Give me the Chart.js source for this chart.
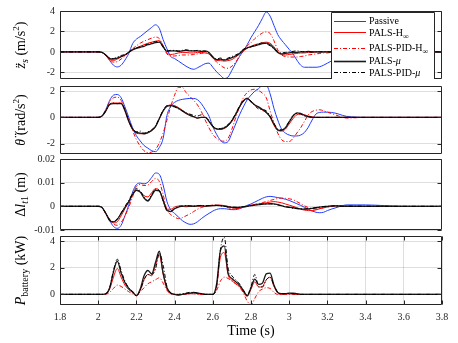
<!DOCTYPE html>
<html><head><meta charset="utf-8">
<script src="https://cdn.jsdelivr.net/npm/chart.js@4.4.0/dist/chart.umd.min.js"></script>
<style>
html,body{margin:0;padding:0;background:#fff;}
#wrap{position:relative;width:458px;height:343px;overflow:hidden;}
#wrap canvas{position:absolute;left:0;top:0;}
</style></head><body>
<div id="wrap">
<canvas id="c1" width="458" height="343"></canvas>
<canvas id="c2" width="458" height="343"></canvas>
<canvas id="c3" width="458" height="343"></canvas>
<canvas id="c4" width="458" height="343"></canvas>
</div>
<script>
// ---------------- DATA ----------------
const time = [1.8, 2.00, 2.02, 2.04, 2.06, 2.08, 2.10, 2.12, 2.14, 2.16, 2.18,
  2.20, 2.22, 2.24, 2.26, 2.28, 2.30, 2.32, 2.34, 2.36, 2.38,
  2.40, 2.42, 2.44, 2.46, 2.48, 2.50, 2.52, 2.54, 2.56, 2.58,
  2.60, 2.62, 2.64, 2.66, 2.68, 2.70, 2.72, 2.74, 2.76, 2.78,
  2.80, 2.82, 2.84, 2.86, 2.88, 2.90, 2.92, 2.94, 2.96, 2.98,
  3.00, 3.02, 3.04, 3.06, 3.08, 3.10, 3.12, 3.14, 3.16, 3.18,
  3.20, 3.22, 3.24, 3.26, 3.28, 3.30, 3.4, 3.5, 3.6, 3.8];

const seriesNames = ['Passive', 'PALS-H∞', 'PALS-PID-H∞', 'PALS-μ', 'PALS-PID-μ'];

// Panel 1: body vertical acceleration (m/s^2)
const accPassive = [0, 0, -0.05, -0.35, -0.85, -1.3, -1.47, -1.3, -0.8, -0.15, 0.8,
  1.25, 1.5, 1.8, 2.1, 2.4, 2.65, 2.3, 1.2, 0.3, -0.45,
  -0.65, -0.9, -1.15, -1.4, -1.6, -1.7, -1.55, -1.35, -1.15, -1.1,
  -1.5, -1.95, -2.3, -2.6, -2.45, -1.8, -1.1, -0.45, 0.1, 0.7,
  1.4, 2.0, 2.6, 3.3, 3.9, 3.5, 2.6, 1.7, 1.15, 0.7,
  0.25, -0.2, -0.8, -1.3, -1.5, -1.5, -1.5, -1.5, -1.45, -1.3,
  -1.1, -0.9, -0.7, -0.5, -0.35, -0.25, -0.05, 0, 0, 0];
const accH = [0, 0, -0.05, -0.35, -0.75, -0.85, -0.7, -0.5, -0.3, -0.05, 0.2,
  0.4, 0.55, 0.7, 0.85, 0.95, 1.05, 1.1, 0.6, -0.1, -0.25,
  -0.2, -0.1, -0.05, -0.05, -0.1, -0.1, -0.05, -0.05, -0.1, -0.2,
  -0.6, -0.85, -0.85, -0.9, -0.85, -0.75, -0.5, -0.2, 0.1, 0.35,
  0.55, 0.7, 0.8, 0.9, 0.95, 0.85, 0.5, 0.0, -0.25, -0.3,
  -0.25, -0.2, -0.15, -0.1, -0.1, -0.05, -0.05, 0, 0, 0,
  0, 0, 0, 0, 0, 0, 0, 0, 0, 0];
const accPidH = [0, 0, -0.05, -0.35, -0.75, -1.0, -0.95, -0.7, -0.4, -0.05, 0.3,
  0.6, 0.85, 1.05, 1.2, 1.35, 1.45, 1.3, 0.6, -0.2, -0.4,
  -0.4, -0.35, -0.3, -0.3, -0.3, -0.25, -0.2, -0.15, -0.1, -0.2,
  -0.6, -1.0, -1.3, -1.55, -1.6, -1.4, -1.0, -0.4, 0.1, 0.6,
  0.9, 1.3, 1.6, 1.85, 1.95, 1.8, 1.1, 0.2, -0.3, -0.45,
  -0.5, -0.5, -0.5, -0.45, -0.4, -0.3, -0.25, -0.2, -0.15, -0.1,
  -0.1, -0.05, -0.05, 0, 0, 0, 0, 0, 0, 0];
const accMu = [0, 0, -0.05, -0.3, -0.65, -0.7, -0.6, -0.45, -0.3, -0.05, 0.2,
  0.35, 0.45, 0.55, 0.7, 0.8, 0.9, 0.95, 0.5, 0.05, 0.1,
  0.1, 0.05, 0.1, 0.15, 0.1, 0.1, 0.1, 0.05, 0.1, -0.05,
  -0.5, -0.75, -0.7, -0.8, -0.7, -0.55, -0.4, -0.15, 0.2, 0.4,
  0.5, 0.6, 0.7, 0.8, 0.85, 0.7, 0.35, -0.05, -0.2, -0.15,
  -0.1, -0.05, -0.05, 0, 0, 0.05, 0, 0, 0, 0,
  0, 0, 0, 0, 0, 0, 0, 0, 0, 0];
const accPidMu = [0, 0, -0.05, -0.3, -0.6, -0.65, -0.5, -0.35, -0.25, 0, 0.25,
  0.4, 0.5, 0.65, 0.75, 0.9, 1.0, 1.0, 0.45, 0.1, 0.15,
  0.15, 0.1, 0.15, 0.2, 0.15, 0.1, 0.15, 0.1, 0.05, -0.1,
  -0.45, -0.7, -0.6, -0.75, -0.6, -0.45, -0.3, -0.1, 0.25, 0.45,
  0.5, 0.65, 0.75, 0.9, 0.8, 0.6, 0.3, 0.05, -0.1, -0.05,
  0, 0.05, 0.1, 0.05, 0, 0, 0, 0, 0, 0,
  0, 0, 0, 0, 0, 0, 0, 0, 0, 0];

// Panel 2: pitch acceleration (rad/s^2)
const pitchPassive = [0, 0, 0.1, 0.6, 1.3, 1.7, 1.75, 1.5, 0.8, 0.0, -0.8,
  -1.4, -1.8, -2.15, -2.35, -2.55, -2.62, -2.3, -1.6, 0.15, 0.85,
  1.15, 1.3, 1.38, 1.42, 1.45, 1.45, 1.35, 1.05, 0.6, 0.1,
  -0.7, -1.3, -1.75, -1.95, -1.85, -1.2, -0.5, 0.2, 0.8, 1.35,
  1.7, 2.0, 2.2, 2.45, 2.45, 1.8, 0.7, -0.2, -0.9, -1.2,
  -1.35, -1.42, -1.42, -1.35, -1.15, -0.75, -0.2, 0.25, 0.38, 0.4,
  0.4, 0.38, 0.33, 0.25, 0.15, 0.08, 0, 0, 0, 0];
const pitchH = [0, 0, 0.1, 0.5, 1.0, 1.1, 1.1, 1.1, 0.6, -0.3, -0.9,
  -1.2, -1.25, -1.25, -1.2, -1.0, -0.7, -0.1, 0.5, 0.85, 0.95,
  0.9, 0.75, 0.55, 0.35, 0.2, 0.05, -0.05, 0.0, 0.0, -0.3,
  -0.7, -0.9, -0.92, -0.85, -0.65, -0.3, 0.2, 0.8, 1.3, 1.47,
  1.2, 0.95, 0.75, 0.55, 0.35, 0.0, -0.6, -1.0, -1.05, -0.9,
  -0.5, -0.1, 0.2, 0.25, 0.2, 0.1, 0.05, 0, 0, 0,
  0, 0, 0, 0, 0, 0, 0, 0, 0, 0];
const pitchPidH = [0, 0, 0.1, 0.6, 1.2, 1.5, 1.55, 1.3, 0.6, -0.2, -1.0,
  -1.7, -2.2, -2.55, -2.7, -2.65, -2.45, -1.95, -1.2, -0.2, 0.85,
  1.7, 2.3, 2.3, 1.9, 1.6, 1.3, 0.95, 0.45, -0.2, -0.8,
  -1.3, -1.6, -1.8, -1.82, -1.6, -0.9, 0.0, 0.8, 1.5, 1.9,
  2.1, 2.15, 2.05, 1.85, 1.5, 0.5, -0.4, -1.2, -1.7, -1.85,
  -1.85, -1.6, -1.2, -0.8, -0.3, 0.2, 0.45, 0.55, 0.58, 0.5,
  0.4, 0.3, 0.2, 0.1, 0.0, -0.05, 0, 0, 0, 0];
const pitchMu = [0, 0, 0.1, 0.5, 1.0, 1.05, 1.05, 1.05, 0.5, -0.3, -0.9,
  -1.15, -1.2, -1.25, -1.15, -1.0, -0.7, -0.1, 0.5, 0.85, 0.9,
  0.85, 0.7, 0.5, 0.3, 0.15, 0.05, -0.05, 0.0, 0.0, -0.3,
  -0.7, -0.88, -0.9, -0.8, -0.6, -0.25, 0.25, 0.8, 1.25, 1.45,
  1.2, 0.95, 0.8, 0.6, 0.4, 0.05, -0.5, -0.95, -1.0, -0.8,
  -0.35, 0.1, 0.35, 0.3, 0.15, 0.05, 0, 0, 0, 0,
  0, 0, 0, 0, 0, 0, 0, 0, 0, 0];
const pitchPidMu = [0, 0, 0.1, 0.5, 1.0, 1.1, 1.05, 1.1, 0.55, -0.25, -0.85,
  -1.1, -1.05, -1.2, -1.1, -0.95, -0.65, -0.05, 0.55, 0.9, 0.85,
  0.8, 0.65, 0.5, 0.35, 0.25, 0.15, 0.1, 0.2, 0.05, -0.25,
  -0.65, -0.85, -0.85, -0.75, -0.55, -0.2, 0.3, 0.85, 1.25, 1.4,
  1.25, 0.9, 0.65, 0.6, 0.5, 0.1, -0.45, -0.9, -0.95, -0.75,
  -0.3, 0.15, 0.3, 0.25, 0.1, 0.05, 0, 0, 0, 0,
  0, 0, 0, 0, 0, 0, 0, 0, 0, 0];

// Panel 3: actuator stroke Δl_t1 (m)
const defPassive = [0, 0, -0.0005, -0.003, -0.006, -0.0085, -0.0093, -0.008, -0.004, 0.0005, 0.006,
  0.0092, 0.0098, 0.0095, 0.0102, 0.0122, 0.0141, 0.0135, 0.009, 0.002, -0.0015,
  -0.003, -0.0045, -0.006, -0.007, -0.0076, -0.0074, -0.0065, -0.0052, -0.004, -0.003,
  -0.002, -0.0013, -0.001, -0.001, -0.0012, -0.0014, -0.0014, -0.001, -0.0003, 0.0004,
  0.001, 0.0018, 0.0026, 0.0034, 0.004, 0.0042, 0.004, 0.0037, 0.0034, 0.003,
  0.0025, 0.0018, 0.0011, 0.0004, -0.0004, -0.0012, -0.002, -0.0025, -0.0027, -0.0025,
  -0.0018, -0.0012, -0.0007, -0.0002, 0.0003, 0.0006, 0.0006, 0.0003, 0, 0];
const defH = [0, 0, -0.0005, -0.003, -0.0055, -0.007, -0.0065, -0.004, -0.001, 0.002, 0.005,
  0.0068, 0.0062, 0.0045, 0.004, 0.0058, 0.0075, 0.0068, 0.003, -0.0012, -0.0012,
  -0.0003, 0.0001, 0, -0.0002, 0, 0.0002, 0.0001, 0, 0, 0.0002,
  0.0004, 0.0005, 0.0005, 0.0003, 0, -0.0005, -0.0008, -0.0008, -0.0004, 0.0,
  0.0005, 0.0008, 0.001, 0.0012, 0.0015, 0.0018, 0.002, 0.0018, 0.0015, 0.001,
  0.0005, 0, -0.0006, -0.0012, -0.0016, -0.0018, -0.0018, -0.0015, -0.001, -0.0006,
  -0.0003, 0, 0.0002, 0.0003, 0.0003, 0.0002, 0.0001, 0, 0, 0];
const defPidH = [0, 0, -0.0005, -0.003, -0.0055, -0.0075, -0.008, -0.0068, -0.004, -0.0005, 0.004,
  0.0085, 0.0092, 0.0088, 0.009, 0.0105, 0.0118, 0.0105, 0.005, -0.0015, -0.0035,
  -0.0045, -0.0052, -0.0048, -0.004, -0.0032, -0.0022, -0.0012, -0.0005, 0, 0.0003,
  0.0005, 0.0005, 0.0003, 0, -0.0005, -0.001, -0.001, -0.0007, -0.0003, 0.0001,
  0.0004, 0.0008, 0.0012, 0.0016, 0.002, 0.0025, 0.0029, 0.0033, 0.0035, 0.0034,
  0.0032, 0.0028, 0.002, 0.0011, 0.0002, -0.0005, -0.001, -0.0012, -0.001, -0.0006,
  -0.0003, 0, 0.0002, 0.0003, 0.0003, 0.0003, 0.0001, 0, 0, 0];
const defMu = [0, 0, -0.0005, -0.003, -0.006, -0.0066, -0.0055, -0.003, -0.0005, 0.002, 0.005,
  0.0068, 0.006, 0.0035, 0.0022, 0.0045, 0.0068, 0.0065, 0.0025, -0.0018, -0.0022,
  -0.001, -0.0003, 0, 0.0002, 0.0001, 0, 0.0002, 0.0003, 0.0001, 0.0002,
  0.0003, 0.0004, 0.0003, 0.0001, -0.0002, -0.0004, -0.0005, -0.0004, -0.0002, 0,
  0.0003, 0.0005, 0.0007, 0.0009, 0.001, 0.0011, 0.001, 0.0007, 0.0003, -0.0002,
  -0.0003, -0.0006, -0.0009, -0.0011, -0.0012, -0.0011, -0.0009, -0.0006, -0.0003, -0.0001,
  0, 0.0002, 0.0002, 0.0001, 0, 0, 0, 0, 0, 0];
const defPidMu = [0, 0, -0.0005, -0.003, -0.0058, -0.0064, -0.0052, -0.0028, 0, 0.0025, 0.0055,
  0.0075, 0.0065, 0.004, 0.0025, 0.005, 0.0072, 0.0066, 0.0022, -0.0015, -0.002,
  -0.0008, 0, 0.0002, 0.0003, 0.0002, 0.0001, 0.0003, 0.0004, 0.0002, 0.0003,
  0.0004, 0.0004, 0.0002, 0, -0.0002, -0.0003, -0.0004, -0.0003, -0.0001, 0.0001,
  0.0003, 0.0005, 0.0008, 0.001, 0.001, 0.0011, 0.0009, 0.0006, 0.0002, -0.0002,
  -0.0005, -0.0008, -0.001, -0.0011, -0.0011, -0.001, -0.0008, -0.0005, -0.0003, -0.0001,
  0, 0.0001, 0.0002, 0.0001, 0, 0, 0, 0, 0, 0];

// Panel 4: battery power (kW)  (no passive curve)
const powH = [0, 0, 0, 0.05, 0.4, 1.3, 1.95, 1.3, 0.7, 0.35, 0.15,
  -0.1, 0.3, 1.1, 1.5, 1.4, 2.2, 3.0, 1.5, 0.4, 0.05,
  0, -0.05, 0, 0.05, 0.05, 0.1, 0.05, 0, 0, 0,
  0, 0.6, 2.8, 3.15, 1.5, 1.05, 0.8, 0.6, 0.2, -0.15,
  0.4, 0.95, 0.55, 0.6, 1.1, 1.3, 0.6, 0.1, 0, 0.05,
  0.05, 0.05, 0, 0, 0, 0, 0, 0, 0, 0,
  0, 0, 0, 0, 0, 0, 0, 0, 0, 0];
const powPidH = [0, 0, 0, 0.02, 0.15, 0.45, 0.7, 0.6, 0.4, 0.2, 0.05,
  -0.1, 0.2, 0.5, 0.8, 0.95, 1.1, 1.25, 0.85, 0.3, 0.05,
  0, 0, 0, 0, 0.05, 0.05, 0, 0, 0, 0,
  0, 0.3, 1.0, 1.3, 1.2, 1.0, 0.8, 0.55, 0.1, -0.5,
  -0.8, -0.3, 0.2, 0.4, 0.5, 0.45, 0.15, 0, 0, 0,
  0, 0, 0, 0, 0, 0, 0, 0, 0, 0,
  0, 0, 0, 0, 0, 0, 0, 0, 0, 0];
const powMu = [0, 0, 0, 0.05, 0.5, 1.7, 2.5, 1.6, 0.9, 0.45, 0.2,
  -0.1, 0.4, 1.4, 1.8, 1.55, 2.4, 3.25, 1.6, 0.5, 0.1,
  0, -0.05, 0, 0.05, 0.1, 0.15, 0.1, 0.05, 0, 0,
  0, 0.8, 3.3, 3.65, 1.6, 1.2, 0.95, 0.7, 0.3, -0.1,
  0.5, 1.15, 0.75, 0.85, 1.55, 1.6, 0.7, 0.15, 0.05, 0.05,
  0.1, 0.1, 0.05, 0, 0, 0, 0, 0, 0, 0,
  0, 0, 0, 0, 0, 0, 0, 0, 0, 0];
const powPidMu = [0, 0, 0, 0.05, 0.5, 1.8, 2.65, 1.8, 1.0, 0.5, 0.2,
  -0.1, 0.3, 1.1, 1.5, 1.5, 1.9, 3.1, 2.2, 0.6, 0.1,
  0, 0, 0.05, 0.1, 0.15, 0.15, 0.1, 0.05, 0, 0,
  0, 0.6, 3.4, 4.3, 2.0, 1.4, 1.1, 0.8, 0.3, -0.05,
  0.6, 1.5, 0.6, 0.55, 1.1, 1.3, 0.7, 0.15, 0.05, 0.05,
  0.05, 0.05, 0, 0, 0, 0, 0, 0, 0, 0,
  0, 0, 0, 0, 0, 0, 0, 0, 0, 0];

// Ticks
const xTicks = [1.8, 2.0, 2.2, 2.4, 2.6, 2.8, 3.0, 3.2, 3.4, 3.6, 3.8];
const xTickLabels = ['1.8', '2', '2.2', '2.4', '2.6', '2.8', '3', '3.2', '3.4', '3.6', '3.8'];
const yTicks1 = [-2, 0, 2, 4];          const yTickLabels1 = ['-2', '0', '2', '4'];
const yTicks2 = [-2, 0, 2];             const yTickLabels2 = ['-2', '0', '2'];
const yTicks3 = [-0.01, 0, 0.01, 0.02]; const yTickLabels3 = ['-0.01', '0', '0.01', '0.02'];
const yTicks4 = [0, 2, 4];              const yTickLabels4 = ['0', '2', '4'];

// ---------------- STYLES ----------------
const SERIF = '"Liberation Serif", "Times New Roman", serif';
const STY = [
  {color: '#1f3dff', width: 1, dash: [], order: 5},
  {color: '#ff0000', width: 1, dash: [], order: 4},
  {color: '#ff0000', width: 1, dash: [4, 2, 1, 2], order: 3},
  {color: '#1a1a1a', width: 1.3, dash: [], order: 2},
  {color: '#000000', width: 1, dash: [4, 2, 1, 2], order: 1}
];
const GRID = 'rgba(0,0,0,0.13)';
const AXC = '#262626';

function fontOf(s, base) {
  return (s.it ? 'italic ' : '') + (s.sz || base) + 'px ' + SERIF;
}
function drawRich(ctx, segs, x, y, base, rot, align) {
  ctx.save();
  ctx.translate(x, y);
  if (rot) ctx.rotate(-Math.PI / 2);
  let w = 0;
  const ws = segs.map(s => { ctx.font = fontOf(s, base); const m = ctx.measureText(s.t).width; w += m; return m; });
  let cx = align === 'left' ? 0 : -w / 2;
  ctx.fillStyle = '#000';
  ctx.textAlign = 'left';
  ctx.textBaseline = 'alphabetic';
  segs.forEach((s, i) => { ctx.font = fontOf(s, base); ctx.fillText(s.t, cx, s.dy || 0); cx += ws[i]; });
  ctx.restore();
}

const framePlugin = {
  id: 'frame',
  afterDatasetsDraw(chart, args, o) {
    const {ctx, chartArea: a, scales} = chart;
    ctx.save();
    ctx.strokeStyle = AXC; ctx.lineWidth = 1; ctx.setLineDash([]);
    const L = Math.round(a.left) + 0.5, R = Math.round(a.right) - 0.5;
    const T = Math.round(a.top) + 0.5, B = Math.round(a.bottom) - 0.5;
    ctx.beginPath();
    ctx.rect(L, T, R - L, B - T);
    const tl = 4;
    scales.y.ticks.forEach(tk => {
      const yy = Math.round(scales.y.getPixelForValue(tk.value)) + 0.5;
      ctx.moveTo(L, yy); ctx.lineTo(L + tl, yy);
      ctx.moveTo(R, yy); ctx.lineTo(R - tl, yy);
    });
    if (o.xTicks) {
      scales.x.ticks.forEach(tk => {
        const xx = Math.round(scales.x.getPixelForValue(tk.value)) + 0.5;
        ctx.moveTo(xx, B); ctx.lineTo(xx, B - tl);
        ctx.moveTo(xx, T); ctx.lineTo(xx, T + tl);
      });
    }
    ctx.stroke();
    ctx.restore();
    drawRich(ctx, o.label, 25, (a.top + a.bottom) / 2, 14, true, 'center');
    if (o.xTitle) drawRich(ctx, o.xTitle, (a.left + a.right) / 2, 334.5, 14, false, 'center');
  },
  afterDraw(chart, args, o) {
    if (!o.legend) return;
    const ctx = chart.ctx;
    ctx.save();
    const x0 = 331.5, y0 = 12.5, x1 = 434.5, y1 = 79;
    ctx.fillStyle = '#fff';
    ctx.fillRect(x0, y0, x1 - x0, y1 - y0);
    ctx.strokeStyle = AXC; ctx.lineWidth = 1;
    ctx.beginPath(); ctx.moveTo(x0, y1); ctx.lineTo(x0, y0); ctx.lineTo(x1, y0); ctx.lineTo(x1, y1); ctx.stroke();
    const rows = [
      {y: 20.7, segs: [{t: 'Passive'}]},
      {y: 32.3, segs: [{t: 'PALS-H'}, {t: '∞', sz: 8, dy: 3}]},
      {y: 47.7, segs: [{t: 'PALS-PID-H'}, {t: '∞', sz: 8, dy: 3}]},
      {y: 61, segs: [{t: 'PALS-'}, {t: 'μ', it: true}]},
      {y: 72.3, segs: [{t: 'PALS-PID-'}, {t: 'μ', it: true}]}
    ];
    rows.forEach((r, i) => {
      const st = STY[i];
      ctx.strokeStyle = st.color; ctx.lineWidth = i === 3 ? 1.6 : st.width;
      ctx.setLineDash(st.dash);
      ctx.beginPath(); ctx.moveTo(334, Math.round(r.y) + 0.5); ctx.lineTo(366, Math.round(r.y) + 0.5); ctx.stroke();
      ctx.setLineDash([]);
      drawRich(ctx, r.segs, 369, r.y + 3.4, 10, false, 'left');
    });
    ctx.restore();
  }
};

const panels = [
  {id: 'c1', top: 8, bottom: 79, min: -2.65, max: 4, yt: yTicks1, yl: yTickLabels1,
   series: [accPassive, accH, accPidH, accMu, accPidMu], styleIdx: [0, 1, 2, 3, 4],
   label: [{t: 'z\u0308', it: true}, {t: 's', it: true, sz: 10, dy: 3}, {t: ' (m/s'}, {t: '2', sz: 9, dy: -6}, {t: ')'}], legend: true},
  {id: 'c2', top: 86, bottom: 154, min: -2.8, max: 2.4, yt: yTicks2, yl: yTickLabels2,
   series: [pitchPassive, pitchH, pitchPidH, pitchMu, pitchPidMu], styleIdx: [0, 1, 2, 3, 4],
   label: [{t: '\u03B8\u0308', it: true}, {t: ' (rad/s'}, {t: '2', sz: 9, dy: -6}, {t: ')'}]},
  {id: 'c3', top: 159, bottom: 230, min: -0.01, max: 0.02, yt: yTicks3, yl: yTickLabels3,
   series: [defPassive, defH, defPidH, defMu, defPidMu], styleIdx: [0, 1, 2, 3, 4],
   label: [{t: '\u0394'}, {t: 'l', it: true}, {t: 't', it: true, sz: 10, dy: 3}, {t: '1', sz: 10, dy: 3}, {t: ' (m)'}]},
  {id: 'c4', top: 236, bottom: 305, min: -0.8, max: 4.4, yt: yTicks4, yl: yTickLabels4,
   series: [powH, powPidH, powMu, powPidMu], styleIdx: [1, 2, 3, 4],
   label: [{t: 'P', it: true}, {t: 'battery', sz: 10, dy: 3}, {t: ' (kW)'}], xAxis: true,
   xTitle: [{t: 'Time (s)'}]}
];

const XH = 20;
panels.forEach(p => {
  const datasets = p.series.map((vals, k) => {
    const st = STY[p.styleIdx[k]];
    return {
      label: seriesNames[p.styleIdx[k]],
      data: time.map((t, i) => ({x: t, y: vals[i]})),
      borderColor: st.color, borderWidth: st.width, borderDash: st.dash,
      pointRadius: 0, fill: false, cubicInterpolationMode: 'monotone', order: st.order
    };
  });
  new Chart(document.getElementById(p.id), {
    type: 'line',
    data: {datasets},
    plugins: [framePlugin],
    options: {
      responsive: false, animation: false, events: [],
      layout: {padding: {left: 0, right: 16, top: p.top, bottom: p.xAxis ? 343 - p.bottom - XH : 343 - p.bottom}},
      plugins: {
        legend: {display: false}, tooltip: {enabled: false},
        frame: {label: p.label, xTicks: !!p.xAxis, legend: !!p.legend, xTitle: p.xTitle}
      },
      scales: {
        x: {
          type: 'linear', min: 1.8, max: 3.8, display: !!p.xAxis,
          afterFit: s => { s.height = p.xAxis ? XH : 0; },
          afterBuildTicks: s => { s.ticks = xTicks.map(v => ({value: v})); },
          grid: {color: GRID, drawTicks: false, lineWidth: 1},
          border: {display: false},
          ticks: {autoSkip: false, maxRotation: 0, padding: 6, color: AXC,
                  font: {family: SERIF, size: 10},
                  callback: (v, i) => xTickLabels[i]}
        },
        y: {
          type: 'linear', min: p.min, max: p.max,
          afterFit: s => { s.width = 60; },
          afterBuildTicks: s => { s.ticks = p.yt.map(v => ({value: v})); },
          grid: {color: GRID, drawTicks: false, lineWidth: 1},
          border: {display: false},
          ticks: {autoSkip: false, padding: 5, color: AXC,
                  font: {family: SERIF, size: 10},
                  callback: (v, i) => p.yl[i]}
        }
      }
    }
  });
});
</script>
</body></html>
